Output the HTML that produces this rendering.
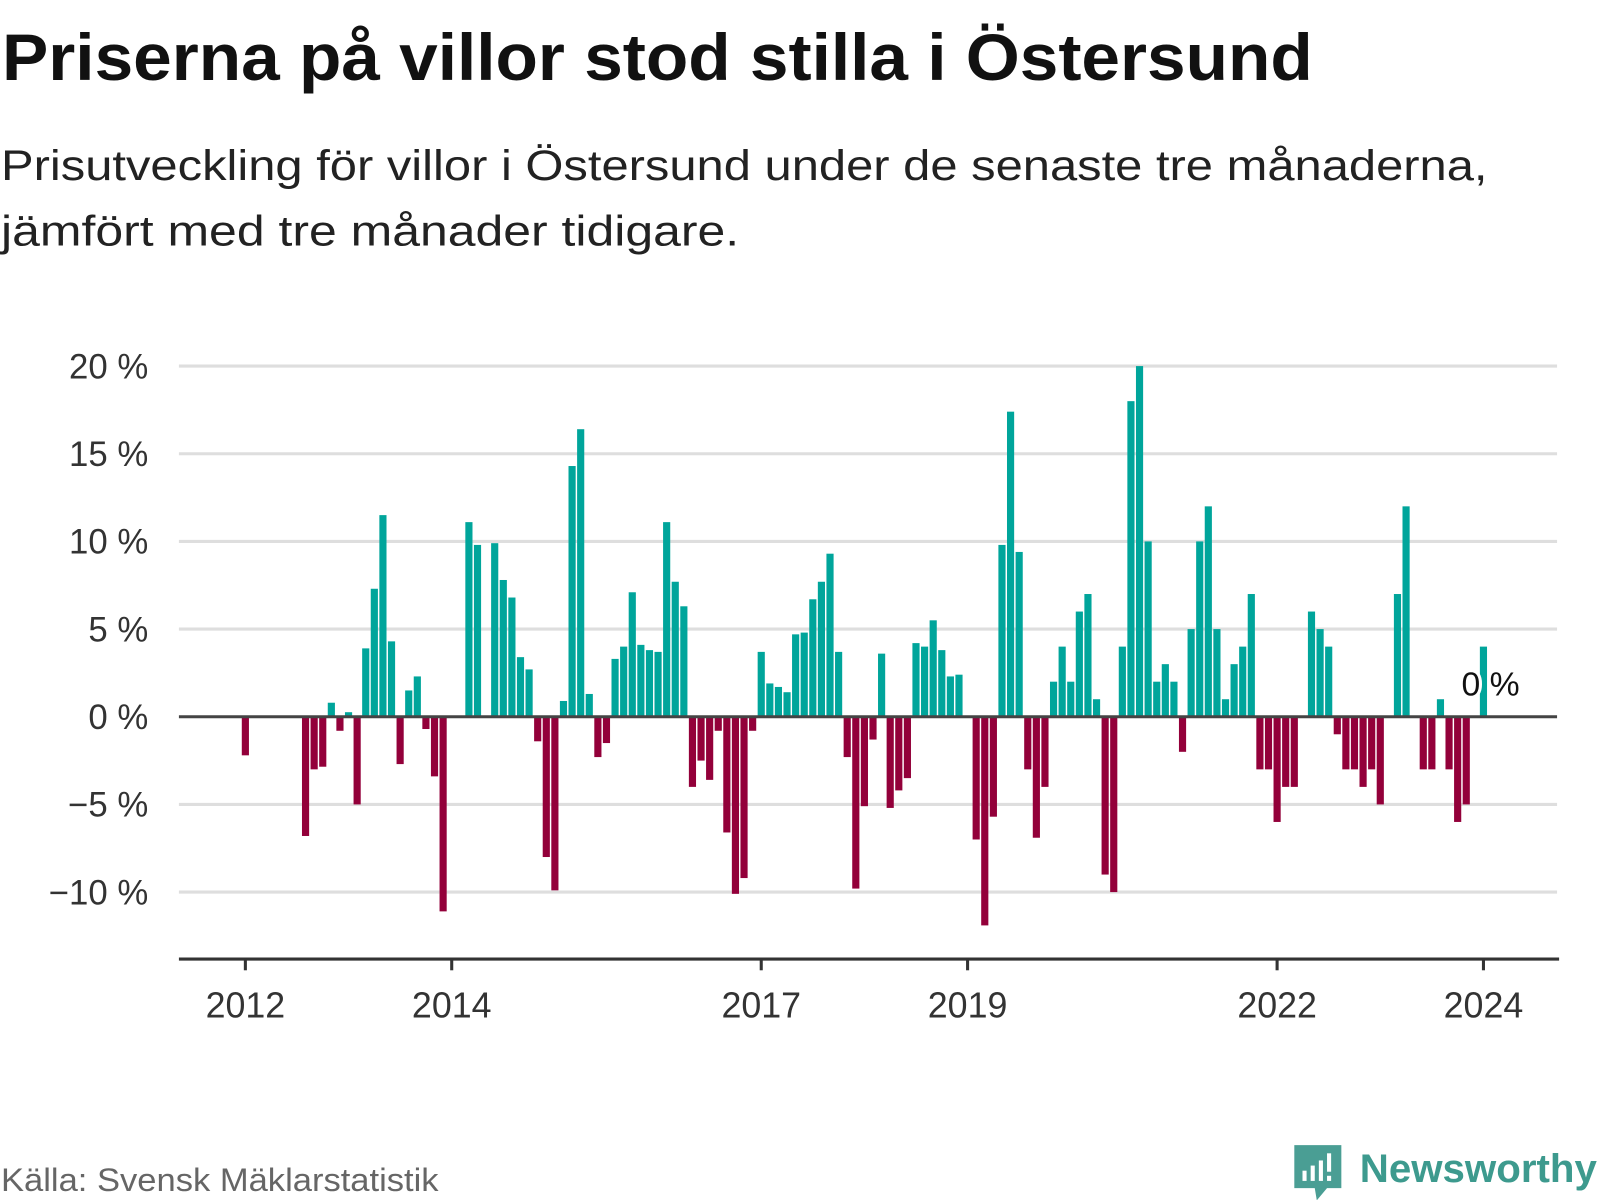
<!DOCTYPE html>
<html><head><meta charset="utf-8"><style>
html,body{margin:0;padding:0;background:#fff;}
svg{display:block;font-family:"Liberation Sans",sans-serif;}
</style></head><body>
<svg id="chart" width="1600" height="1200" viewBox="0 0 1565 1173.6" xmlns="http://www.w3.org/2000/svg">
<text x="2" y="78" font-size="64" font-weight="bold" fill="#111" textLength="1282" lengthAdjust="spacingAndGlyphs">Priserna på villor stod stilla i Östersund</text>
<text x="1" y="176" font-size="42" fill="#222" textLength="1454" lengthAdjust="spacingAndGlyphs">Prisutveckling för villor i Östersund under de senaste tre månaderna,</text>
<text x="1" y="240" font-size="42" fill="#222" textLength="722" lengthAdjust="spacingAndGlyphs">jämfört med tre månader tidigare.</text>
<g id="grid"></g>
<g id="yticks"></g>
<g id="bars"></g>
<g id="xaxis"></g>
<text x="1" y="1165" font-size="32" fill="#666" textLength="428" lengthAdjust="spacingAndGlyphs">Källa: Svensk Mäklarstatistik</text>
<g>
<path d="M1266 1120 h46 v42 h-14 l-10 12 l-2 -12 h-20 z" fill="#4a9e94"/>
<rect x="1274" y="1145" width="4" height="10" fill="#fff"/>
<rect x="1282" y="1140" width="4" height="15" fill="#fff"/>
<rect x="1290" y="1135" width="4" height="20" fill="#fff"/>
<rect x="1298" y="1128" width="4" height="18" fill="#fff"/>
<rect x="1298" y="1150" width="4" height="5" fill="#fff"/>
<text x="1330" y="1156" font-size="39" font-weight="bold" fill="#3d9a8e" textLength="232" lengthAdjust="spacingAndGlyphs">Newsworthy</text>
</g>
</svg>
<script>
const monthIndex = [];
for (let i = 0; i <= 144; i++) monthIndex.push(i);
const values = [
-2.2,null,null,null,null,null,null,-6.8,-3.0,-2.85,0.8,-0.8,0.26,-5.0,3.9,7.3,11.5,4.3,-2.7,1.5,2.3,-0.7,-3.4,-11.1,
null,null,11.1,9.8,null,9.9,7.8,6.8,3.4,2.7,-1.4,-8.0,-9.9,0.9,14.3,16.4,1.3,-2.3,-1.5,3.3,4.0,7.1,4.1,3.8,
3.7,11.1,7.7,6.3,-4.0,-2.5,-3.6,-0.8,-6.6,-10.1,-9.2,-0.8,3.7,1.9,1.7,1.4,4.7,4.8,6.7,7.7,9.3,3.7,-2.3,-9.8,
-5.1,-1.3,3.6,-5.2,-4.2,-3.5,4.2,4.0,5.5,3.8,2.3,2.4,null,-7.0,-11.9,-5.7,9.8,17.4,9.4,-3.0,-6.9,-4.0,
2,4,2,6,7,1,-9,-10,4,18,20,10,2,3,2,-2,5,10,12,5,1,3,4,7,
-3,-3,-6,-4,-4,null,6,5,4,-1,-3,-3,-4,-3,-5,null,7,12,null,-3,-3,1,-3,-6,-5,null,
4
];
const yTicks = [20,15,10,5,0,-5,-10];
const yTickLabels = ["20 %","15 %","10 %","5 %","0 %","\u22125 %","\u221210 %"];
const xTickMonths = [0,24,60,84,120,144];
const xTickLabels = ["2012","2014","2017","2019","2022","2024"];
const lastLabel = "0 %";

const NS = "http://www.w3.org/2000/svg";
const X0 = 240, MONTH = (1451 - 240) / 144;
const Y0 = 701, PER = (701 - 358) / 20;
function xs(m){ return X0 + m * MONTH; }
function ys(v){ return Y0 - v * PER; }
function mk(tag, attrs, parent){ const e = document.createElementNS(NS, tag); for (const k in attrs) e.setAttribute(k, attrs[k]); parent.appendChild(e); return e; }

const grid = document.getElementById('grid'), yt = document.getElementById('yticks');
yTicks.forEach((t, i) => {
  if (t !== 0) {
    const l = mk('line', {x1:175, x2:1523, y1:ys(t), y2:ys(t), stroke:'#dedede', 'stroke-width':3}, grid);
    
    
  }
  const tx = mk('text', {x:145, y:ys(t)+12, 'text-anchor':'end', 'font-size':34, fill:'#333'}, yt);
  
  
  tx.textContent = yTickLabels[i];
});

const bars = document.getElementById('bars');
const bw = 7;
monthIndex.forEach((m, i) => {
  const v = values[i];
  if (v === null || v === undefined || v === 0) return;
  const y = v > 0 ? ys(v) : Y0;
  const r = mk('rect', {x:xs(m)-bw/2, y:y, width:bw, height:Math.abs(ys(v)-Y0), fill: v > 0 ? '#00a59b' : '#93003a'}, bars);
  
  
});

const zl = mk('line', {x1:175, x2:1523, y1:Y0, y2:Y0, stroke:'#444', 'stroke-width':3}, bars);



const lastM = monthIndex[monthIndex.length - 1];
const lbl = mk('text', {x:xs(lastM)+7, y:680, 'text-anchor':'middle', 'font-size':33, fill:'#111', stroke:'#fff', 'stroke-width':6, 'paint-order':'stroke', 'stroke-linejoin':'round'}, bars);


lbl.textContent = lastLabel;

const xa = document.getElementById('xaxis');
const al = mk('line', {x1:175, x2:1525, y1:938, y2:938, stroke:'#333', 'stroke-width':3}, xa);


xTickMonths.forEach((m, i) => {
  const t = mk('line', {x1:xs(m), x2:xs(m), y1:938, y2:949, stroke:'#333', 'stroke-width':3}, xa);
  
  
  const tx = mk('text', {x:xs(m), y:995, 'text-anchor':'middle', 'font-size':35, fill:'#333'}, xa);
  
  
  tx.textContent = xTickLabels[i];
});
</script>
</body></html>
